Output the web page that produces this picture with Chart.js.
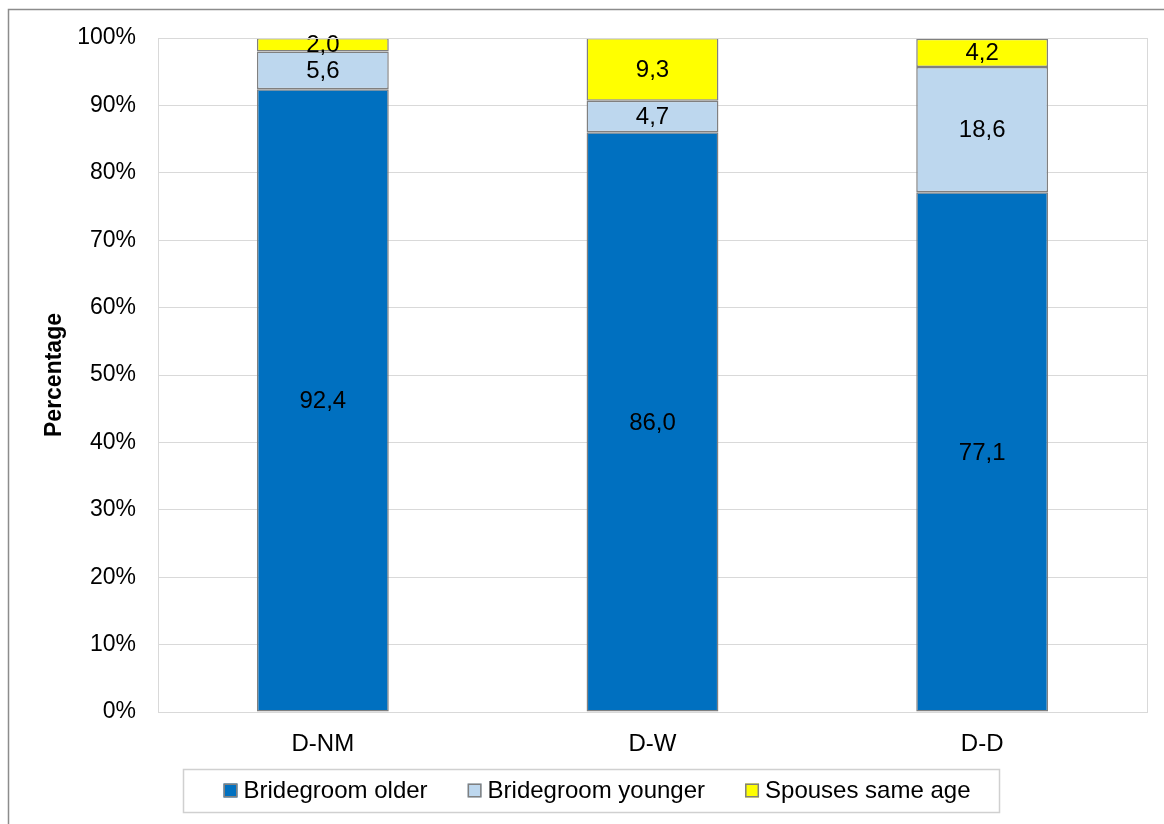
<!DOCTYPE html>
<html>
<head>
<meta charset="utf-8">
<title>Age difference of spouses</title>
<script src="https://cdn.jsdelivr.net/npm/chart.js@4/dist/chart.umd.min.js"></script>
<style>
body{margin:0;background:#fff;}
</style>
</head>
<body>
<canvas id="ageChart" width="1164" height="824"></canvas>
<script>

// categories and series (percent)
const categories = ["D-NM", "D-W", "D-D"];
const bridegroomOlder = [92.4, 86.0, 77.1];
const bridegroomYounger = [5.6, 4.7, 18.6];
const sameAge = [2.0, 9.3, 4.2];
const seriesNames = ["Bridegroom older", "Bridegroom younger", "Spouses same age"];
const yTicks = [0, 10, 20, 30, 40, 50, 60, 70, 80, 90, 100];

const FONT = "'Liberation Sans', Arial, sans-serif";

// value labels in the middle of each segment, decimal comma
const segmentLabels = {
  id: "segmentLabels",
  afterDatasetsDraw(chart){
    const ctx = chart.ctx;
    ctx.save();
    ctx.font = "24px " + FONT;
    ctx.fillStyle = "#000";
    ctx.textAlign = "center";
    ctx.textBaseline = "middle";
    chart.data.datasets.forEach((ds, i) => {
      chart.getDatasetMeta(i).data.forEach((bar, j) => {
        const p = bar.getProps(["x", "y", "base"], true);
        ctx.fillText(ds.data[j].toFixed(1).replace(".", ","), p.x, (p.y + p.base) / 2 + 1);
      });
    });
    ctx.restore();
  }
};

// frame around plot, outer frame and boxed legend
const frames = {
  id: "frames",
  afterDraw(chart){
    const ctx = chart.ctx;
    const a = chart.chartArea;
    ctx.save();
    ctx.strokeStyle = "#d9d9d9";
    ctx.lineWidth = 1;
    ctx.strokeRect(Math.round(a.left) + 0.5, Math.round(a.top) + 0.5, Math.round(a.right - a.left), Math.round(a.bottom - a.top));

    ctx.strokeStyle = "#8c8c8c";
    ctx.lineWidth = 1.5;
    ctx.strokeRect(8.5, 9.5, 1300, 1000);

    // legend
    const boxL = 183, boxT = 769, boxW = 816, boxH = 43;
    ctx.strokeStyle = "#d0d0d0";
    ctx.lineWidth = 1.5;
    ctx.strokeRect(boxL + 0.5, boxT + 0.5, boxW, boxH);
    ctx.font = "24px " + FONT;
    ctx.textBaseline = "middle";
    ctx.textAlign = "left";
    const sq = 14, gapText = 6, gapItem = 40;
    const widths = chart.data.datasets.map(ds => sq + gapText + ctx.measureText(ds.label).width);
    const total = widths.reduce((s, w) => s + w, 0) + gapItem * (widths.length - 1);
    let x = boxL + boxW / 2 + 6 - total / 2;
    const cy = boxT + boxH / 2 + 1;
    chart.data.datasets.forEach((ds, i) => {
      ctx.fillStyle = ds.backgroundColor;
      ctx.fillRect(x, cy - sq / 2 - 1, sq, sq);
      ctx.strokeStyle = "#808080";
      ctx.lineWidth = 1.5;
      ctx.strokeRect(x + 0.75, cy - sq / 2 - 0.25, sq - 1.5, sq - 1.5);
      ctx.fillStyle = "#000";
      ctx.fillText(ds.label, x + sq + gapText, cy);
      x += widths[i] + gapItem;
    });
    ctx.restore();
  }
};

new Chart(document.getElementById("ageChart"), {
  type: "bar",
  data: {
    labels: categories,
    datasets: [
      {label: seriesNames[0], data: bridegroomOlder, backgroundColor: "#0070c0"},
      {label: seriesNames[1], data: bridegroomYounger, backgroundColor: "#bdd7ee"},
      {label: seriesNames[2], data: sameAge, backgroundColor: "#ffff00"}
    ].map(d => Object.assign(d, {
      borderColor: "#808080",
      borderWidth: 1.5,
      borderSkipped: false,
      categoryPercentage: 1,
      barPercentage: 0.4
    }))
  },
  options: {
    responsive: false,
    animation: false,
    layout: {padding: {left: 20, right: 17, top: 38, bottom: 52}},
    plugins: {
      legend: {display: false},
      tooltip: {enabled: false}
    },
    scales: {
      x: {
        stacked: true,
        grid: {display: false},
        border: {display: false},
        ticks: {color: "#000", font: {size: 24, family: FONT}, padding: 10},
        afterFit(scale){ scale.height = 60; }
      },
      y: {
        stacked: true,
        min: 0,
        max: 100,
        afterBuildTicks(scale){ scale.ticks = yTicks.map(v => ({value: v})); },
        grid: {color: "#d9d9d9", drawTicks: false},
        border: {display: false},
        ticks: {
          color: "#000",
          font: {size: 23, family: FONT},
          padding: 22,
          callback: v => v + "%"
        },
        title: {
          display: true,
          text: "Percentage",
          color: "#000",
          font: {size: 23, weight: "bold", family: FONT},
          padding: {top: 21, bottom: 0}
        },
        afterFit(scale){ scale.width = 138; }
      }
    }
  },
  plugins: [segmentLabels, frames]
});

</script>
</body>
</html>
